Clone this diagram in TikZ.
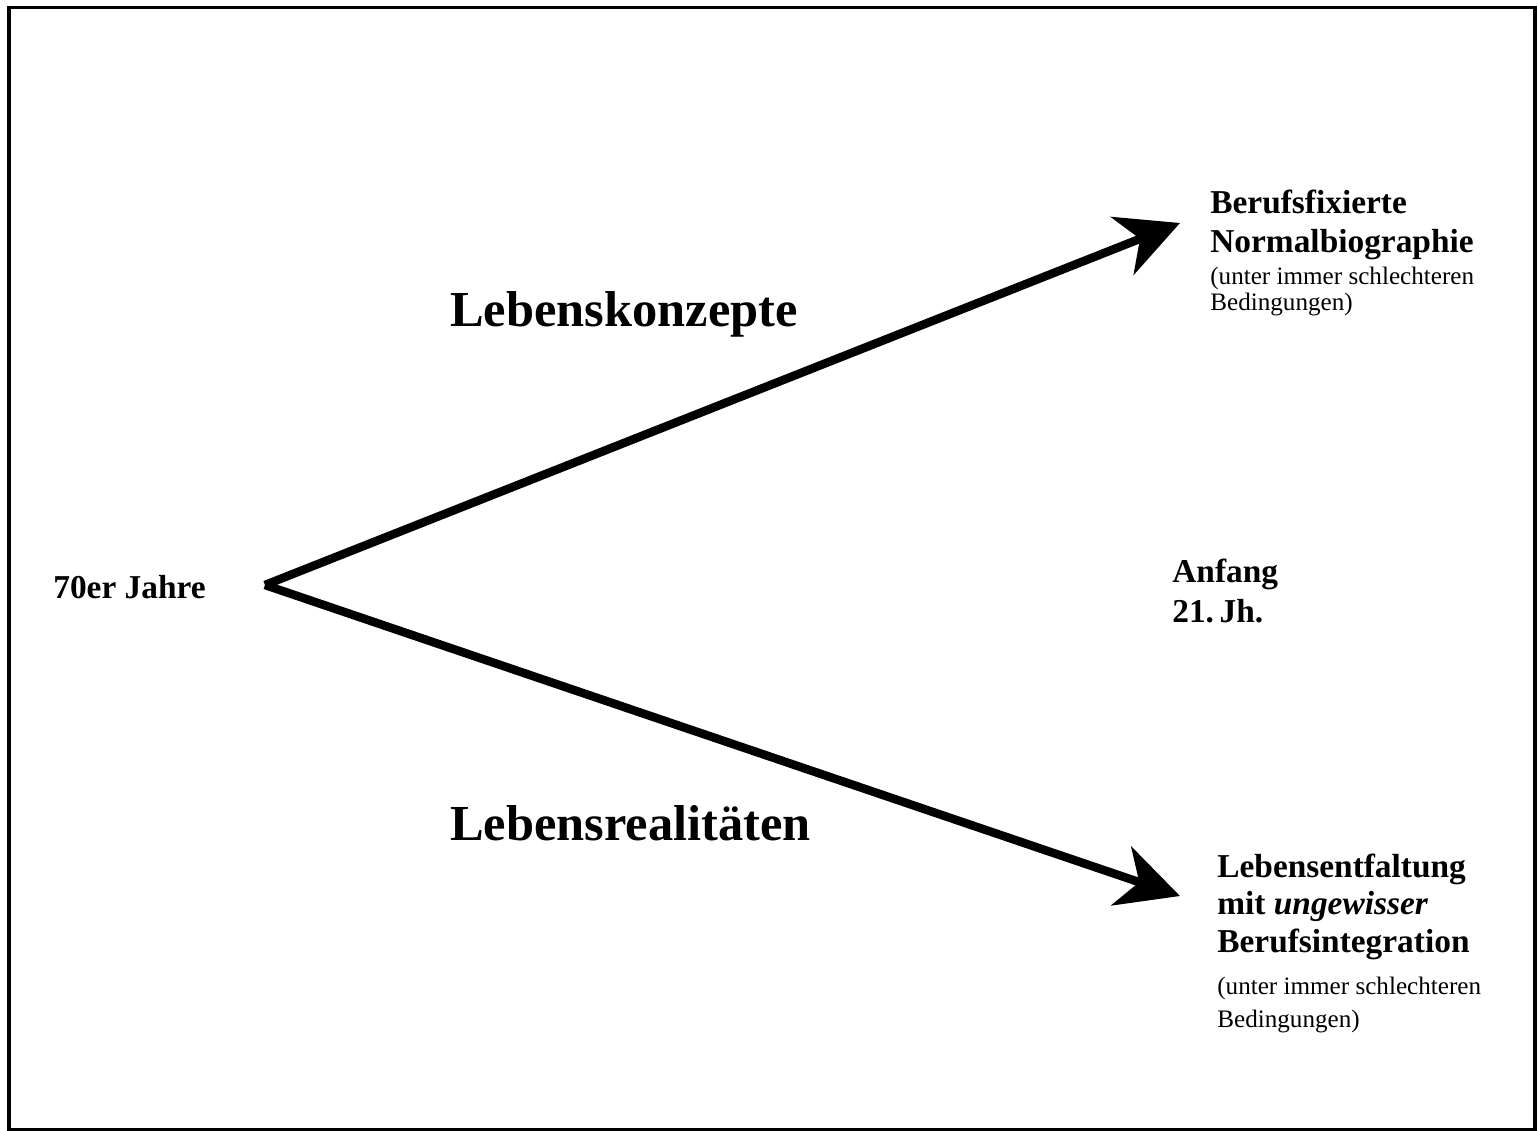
\documentclass[tikz,border=0pt]{standalone}
\usepackage{fontspec}
\setmainfont{Liberation Serif}
\usetikzlibrary{arrows.meta}
\tikzset{
  era/.style={inner sep=0pt,anchor=base west,align=left,
              font=\fontsize{19}{22.7}\selectfont\bfseries},
  trend/.style={inner sep=0pt,anchor=base west,
                font=\fontsize{28.7}{32}\selectfont\bfseries},
  outcome/.style={inner sep=0pt,anchor=base west,align=left,
                  font=\fontsize{19}{22.7}\selectfont\bfseries},
  note/.style={inner sep=0pt,anchor=base west,align=left,
               font=\fontsize{14.3}{15.3}\selectfont},
  route/.style={-{Stealth[length=1.24cm,width=1.24cm,inset=0.38cm]},
                line width=0.17cm,line join=miter},
}

\begin{document}
\begin{tikzpicture}[x=0.02cm,y=-0.02cm]
  \useasboundingbox (0,0) rectangle (1538,1131);
  \draw[line width=0.07cm] (9,7.5) rectangle (1535,1129.5);
  \coordinate (start) at (265,585);
  \coordinate (up) at (1180,223);
  \coordinate (down) at (1180,896);
  \draw[route] (start) -- (up);
  \draw[route] (start) -- (down);
  \node[era] (past) at (53,598) {70er Jahre};
  \node[era] (now) at (1172,622) {Anfang\\21.\,Jh.};
  \node[trend] (konz) at (450,327) {Lebenskonzepte};
  \node[trend] (real) at (450,840) {Lebensrealitäten};
  \node[outcome] (norm) at (1210,253) {Berufsfixierte\\Normalbiographie};
  \node[note] (normnote) at (1210,311) {(unter immer schlechteren\\Bedingungen)};
  \node[outcome,font=\fontsize{19}{21.3}\selectfont\bfseries] (entf) at (1217,952)
    {Lebensentfaltung\\mit \textit{ungewisser}\\Berufsintegration};
  \node[note,font=\fontsize{14.3}{18.7}\selectfont] (entfnote) at (1217,1027)
    {(unter immer schlechteren\\Bedingungen)};
\end{tikzpicture}
\end{document}
